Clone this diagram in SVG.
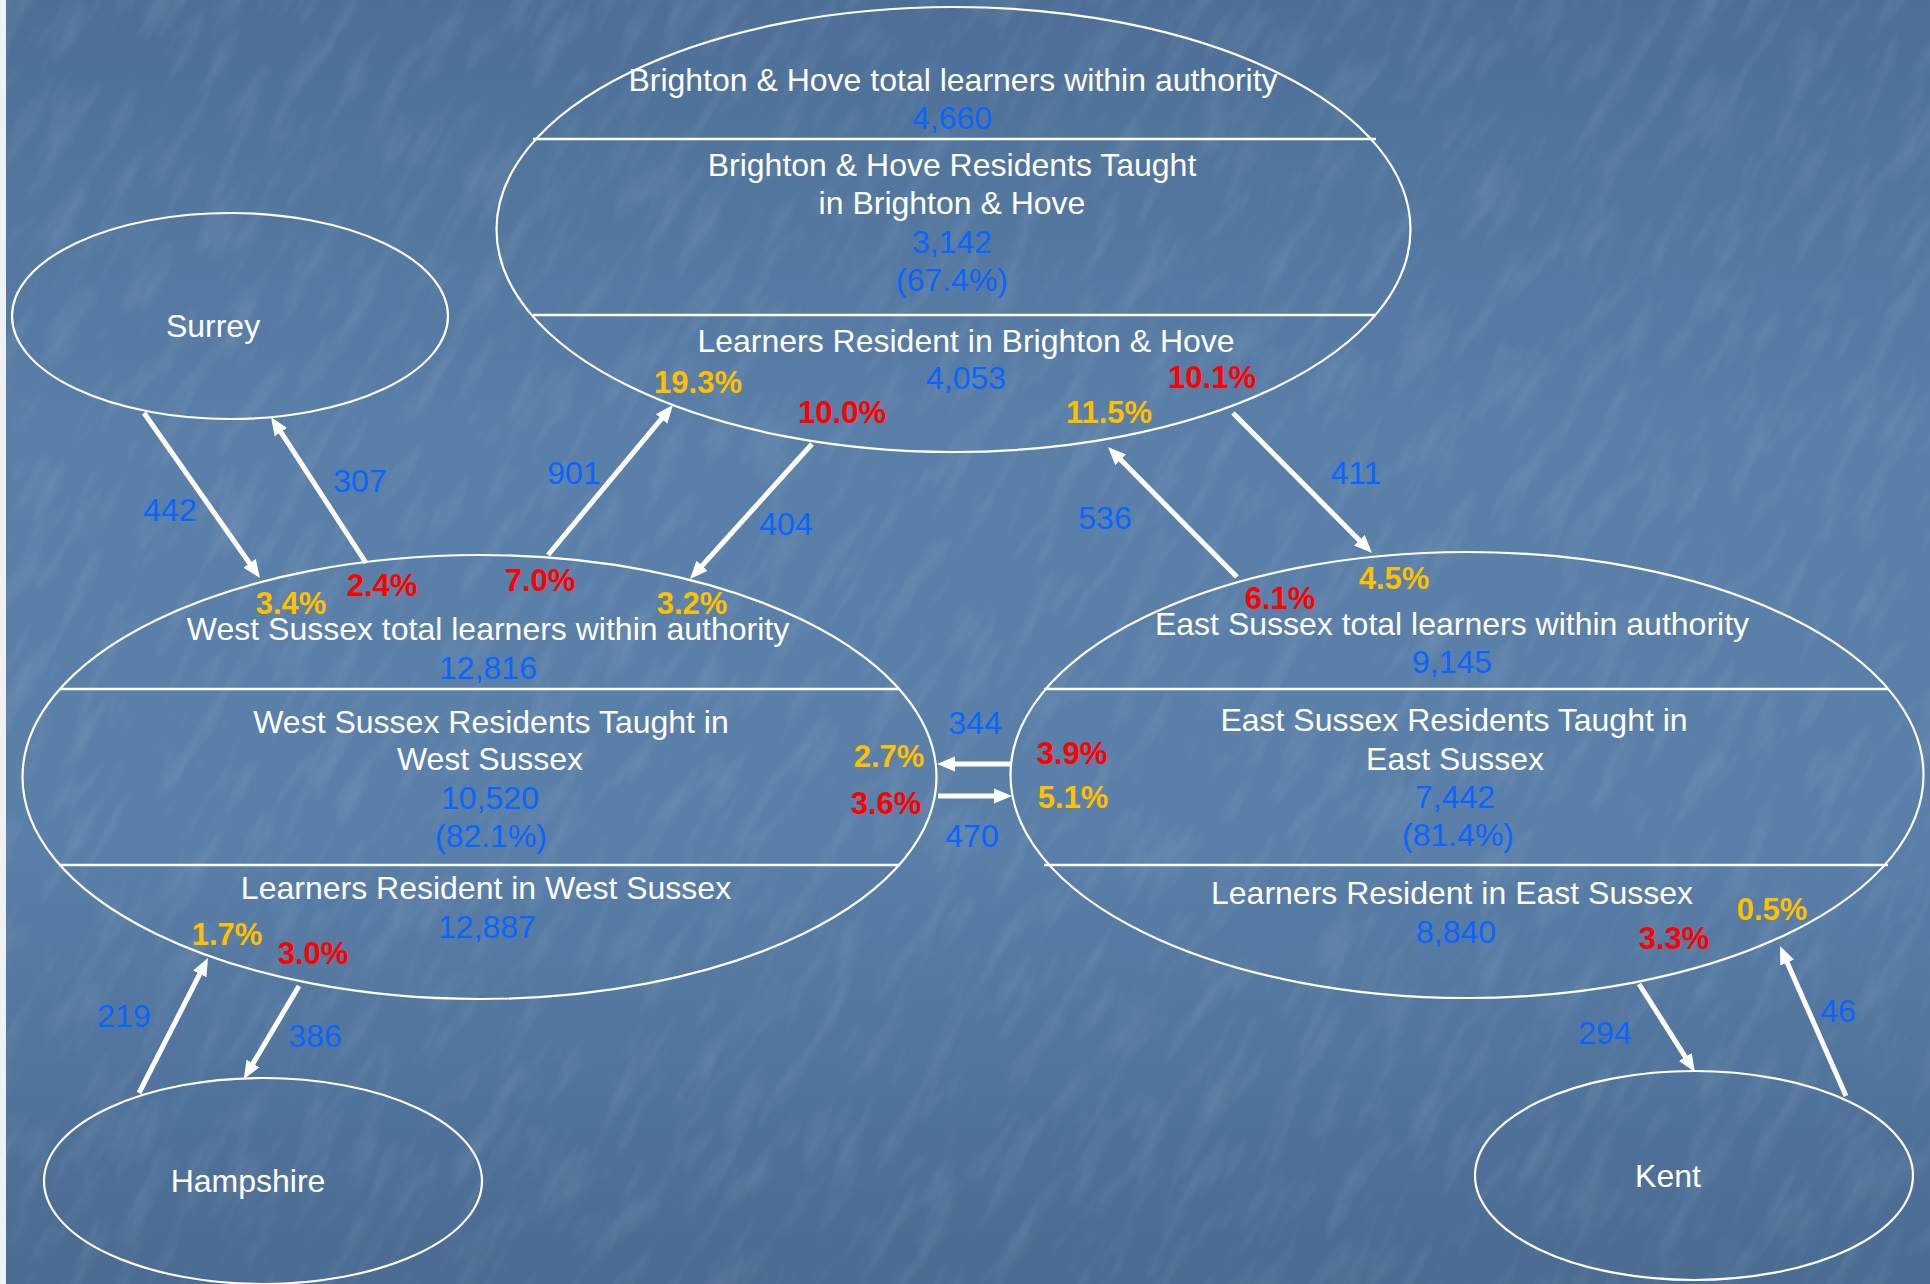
<svg xmlns="http://www.w3.org/2000/svg" width="1930" height="1284" viewBox="0 0 1930 1284">
  <defs>
    <linearGradient id="bg" x1="0" y1="0" x2="0" y2="1">
      <stop offset="0" stop-color="#4d6f97"/>
      <stop offset="0.35" stop-color="#5a7fa8"/>
      <stop offset="0.65" stop-color="#5a7fa8"/>
      <stop offset="1" stop-color="#4a6b92"/>
    </linearGradient>
    <filter id="tex" x="0" y="0" width="1" height="1">
      <feTurbulence type="fractalNoise" baseFrequency="0.012 0.05" numOctaves="3" seed="7"/>
      <feColorMatrix values="0 0 0 0 1  0 0 0 0 1  0 0 0 0 1  0 0 0 1.6 -0.75"/>
    </filter>
    <marker id="ah" markerUnits="userSpaceOnUse" markerWidth="20" markerHeight="16" viewBox="0 -8 20 16" refX="8" refY="0" orient="auto">
      <path d="M0,-7.5 L18,0 L0,7.5 Z" fill="#ffffff"/>
    </marker>
    <style>
      .ell { fill: none; stroke: #ffffff; stroke-width: 2.2; }
      .div { stroke: #ffffff; stroke-width: 2.5; }
      .t { font-family: "Liberation Sans", Arial, sans-serif; font-size: 32px; text-anchor: middle; }
      .w { fill: #ffffff; }
      .b { fill: #0a64ff; }
      .p { font-family: "Liberation Sans", Arial, sans-serif; font-size: 31px; font-weight: bold; text-anchor: middle; }
      .y { fill: #ffc000; }
      .r { fill: #ff0000; }
      .arr { stroke: #ffffff; stroke-width: 5; fill: none; marker-end: url(#ah); }
    </style>
  </defs>

  <g id="background">
    <rect x="0" y="0" width="1930" height="1284" fill="url(#bg)"/>
    <g opacity="0.12">
      <rect x="-700" y="-700" width="3330" height="2684" filter="url(#tex)" transform="rotate(-60 965 642)"/>
    </g>
    <rect x="0" y="0" width="6" height="1284" fill="#eef2f6"/>
  </g>

  <g id="surrey">
    <ellipse class="ell" cx="230" cy="316" rx="218" ry="103"/>
    <text class="t w" x="213" y="337">Surrey</text>
  </g>

  <g id="brighton">
    <ellipse class="ell" cx="953.5" cy="229.5" rx="457" ry="222.5"/>
    <line class="div" x1="533" y1="139" x2="1376" y2="139"/>
    <line class="div" x1="533" y1="315" x2="1376" y2="315"/>
    <text class="t w" x="953" y="91">Brighton &amp; Hove total learners within authority</text>
    <text class="t b" x="952" y="129">4,660</text>
    <text class="t w" x="952" y="176">Brighton &amp; Hove Residents Taught</text>
    <text class="t w" x="952" y="214">in Brighton &amp; Hove</text>
    <text class="t b" x="952" y="253">3,142</text>
    <text class="t b" x="952" y="291">(67.4%)</text>
    <text class="t w" x="966" y="352">Learners Resident in Brighton &amp; Hove</text>
    <text class="t b" x="966" y="389">4,053</text>
    <text class="p y" x="698" y="393">19.3%</text>
    <text class="p r" x="1212" y="388">10.1%</text>
    <text class="p r" x="842" y="423">10.0%</text>
    <text class="p y" x="1109" y="423">11.5%</text>
  </g>

  <g id="west-sussex">
    <ellipse class="ell" cx="479.5" cy="777" rx="457" ry="222"/>
    <line class="div" x1="59" y1="689" x2="900" y2="689"/>
    <line class="div" x1="59" y1="865" x2="900" y2="865"/>
    <text class="p y" x="291" y="614">3.4%</text>
    <text class="p r" x="382" y="596">2.4%</text>
    <text class="p r" x="540" y="591">7.0%</text>
    <text class="p y" x="692" y="614">3.2%</text>
    <text class="t w" x="488" y="640">West Sussex total learners within authority</text>
    <text class="t b" x="488" y="679">12,816</text>
    <text class="t w" x="491" y="733">West Sussex Residents Taught in</text>
    <text class="t w" x="490" y="770">West Sussex</text>
    <text class="t b" x="490" y="809">10,520</text>
    <text class="t b" x="491" y="847">(82.1%)</text>
    <text class="t w" x="486" y="899">Learners Resident in West Sussex</text>
    <text class="t b" x="487" y="938">12,887</text>
    <text class="p y" x="227" y="945">1.7%</text>
    <text class="p r" x="313" y="964">3.0%</text>
    <text class="p y" x="889" y="767">2.7%</text>
    <text class="p r" x="886" y="814">3.6%</text>
  </g>

  <g id="east-sussex">
    <ellipse class="ell" cx="1467" cy="775" rx="456.5" ry="223"/>
    <line class="div" x1="1044" y1="689" x2="1888" y2="689"/>
    <line class="div" x1="1044" y1="865" x2="1888" y2="865"/>
    <text class="p r" x="1280" y="609">6.1%</text>
    <text class="p y" x="1394" y="589">4.5%</text>
    <text class="t w" x="1452" y="635">East Sussex total learners within authority</text>
    <text class="t b" x="1452" y="673">9,145</text>
    <text class="t w" x="1454" y="731">East Sussex Residents Taught in</text>
    <text class="t w" x="1455" y="770">East Sussex</text>
    <text class="t b" x="1455" y="808">7,442</text>
    <text class="t b" x="1458" y="846">(81.4%)</text>
    <text class="t w" x="1452" y="904">Learners Resident in East Sussex</text>
    <text class="t b" x="1456" y="943">8,840</text>
    <text class="p r" x="1674" y="949">3.3%</text>
    <text class="p y" x="1772" y="920">0.5%</text>
    <text class="p r" x="1072" y="764">3.9%</text>
    <text class="p y" x="1073" y="808">5.1%</text>
  </g>

  <g id="hampshire">
    <ellipse class="ell" cx="263" cy="1181" rx="219" ry="103"/>
    <text class="t w" x="248" y="1192">Hampshire</text>
  </g>

  <g id="kent">
    <ellipse class="ell" cx="1694" cy="1175.5" rx="219" ry="104.5"/>
    <text class="t w" x="1668" y="1187">Kent</text>
  </g>

  <g id="connectors">
    <line class="arr" x1="144" y1="413" x2="254.2" y2="569.8"/>
    <line class="arr" x1="366" y1="563" x2="276.5" y2="425.4"/>
    <line class="arr" x1="548" y1="555" x2="666.6" y2="412.7"/>
    <line class="arr" x1="812" y1="444" x2="696.7" y2="571.6"/>
    <line class="arr" x1="1237" y1="577" x2="1115" y2="454.1"/>
    <line class="arr" x1="1233" y1="413" x2="1365" y2="545.9"/>
    <line class="arr" x1="1011" y1="764" x2="947" y2="764"/>
    <line class="arr" x1="938" y1="796" x2="1002" y2="796"/>
    <line class="arr" x1="139" y1="1093" x2="203.4" y2="966.9"/>
    <line class="arr" x1="299" y1="986" x2="248.9" y2="1070.4"/>
    <line class="arr" x1="1639" y1="984" x2="1689.6" y2="1063.6"/>
    <line class="arr" x1="1846" y1="1096" x2="1784" y2="955.2"/>
    <text class="t b" x="170" y="521">442</text>
    <text class="t b" x="360" y="492">307</text>
    <text class="t b" x="574" y="484">901</text>
    <text class="t b" x="786" y="535">404</text>
    <text class="t b" x="1105" y="529">536</text>
    <text class="t b" x="1356" y="484">411</text>
    <text class="t b" x="975" y="734">344</text>
    <text class="t b" x="972" y="847">470</text>
    <text class="t b" x="124" y="1027">219</text>
    <text class="t b" x="315" y="1047">386</text>
    <text class="t b" x="1605" y="1044">294</text>
    <text class="t b" x="1838" y="1022">46</text>
  </g>
</svg>
